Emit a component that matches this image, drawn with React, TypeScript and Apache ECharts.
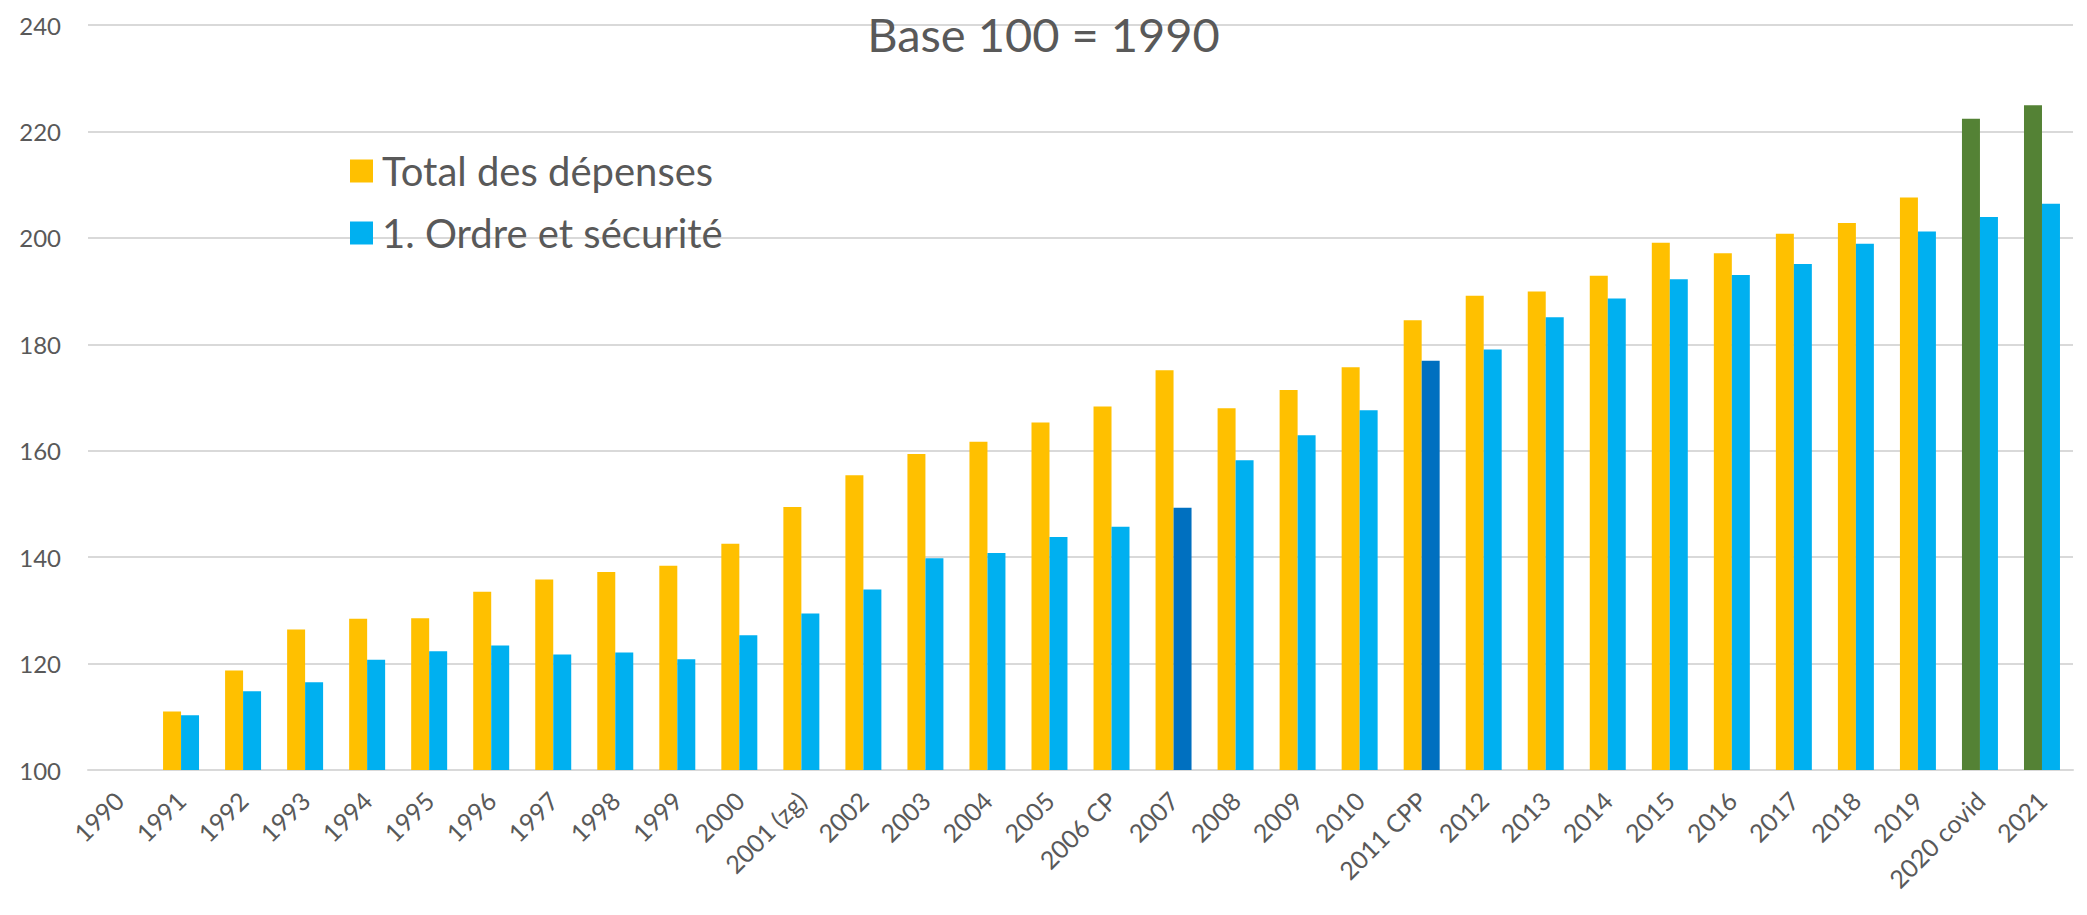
import React, { useEffect, useRef } from "react";
import * as echarts from "echarts";

const categories = [
  "1990", "1991", "1992", "1993", "1994", "1995", "1996", "1997", "1998", "1999",
  "2000", "2001 (zg)", "2002", "2003", "2004", "2005", "2006 CP", "2007", "2008", "2009",
  "2010", "2011 CPP", "2012", "2013", "2014", "2015", "2016", "2017", "2018", "2019",
  "2020 covid", "2021",
];

const totalDepenses = [
  100, 111.0, 118.7, 126.4, 128.4, 128.5, 133.5, 135.8, 137.2, 138.4,
  142.5, 149.4, 155.4, 159.4, 161.7, 165.3, 168.3, 175.1, 168.0, 171.4,
  175.7, 184.5, 189.1, 189.9, 192.9, 199.1, 197.1, 200.75, 202.8, 207.6,
  222.4, 224.9,
];

const ordreSecurite = [
  100, 110.3, 114.8, 116.5, 120.7, 122.3, 123.4, 121.7, 122.1, 120.8,
  125.3, 129.4, 133.9, 139.8, 140.8, 143.8, 145.7, 149.3, 158.2, 162.9,
  167.6, 176.9, 179.0, 185.1, 188.6, 192.2, 193.0, 195.1, 198.9, 201.2,
  203.9, 206.4,
];

const seriesNames = ["Total des dépenses", "1. Ordre et sécurité"];
const greenYears = ["2020 covid", "2021"];
const darkBlueYears = ["2007", "2011 CPP"];

const YELLOW = "#FFC000";
const GREEN = "#548235";
const BLUE = "#00B0F0";
const DARK_BLUE = "#0070C0";
const TEXT = "#595959";
const GRID = "#D9D9D9";
const FONT = "Lato, 'Noto Sans', sans-serif";

export default function App() {
  const ref = useRef<HTMLDivElement>(null);

  useEffect(() => {
    document.body.style.margin = "0";
    if (!ref.current) return;
    const chart = echarts.init(ref.current, undefined, { renderer: "svg" });
    chart.setOption({
      animation: false,
      backgroundColor: "#ffffff",
      textStyle: { fontFamily: FONT },
      title: {
        text: "Base 100 = 1990",
        left: "center",
        top: 10,
        padding: 0,
        textStyle: { fontFamily: FONT, fontSize: 47, fontWeight: "normal", color: TEXT },
      },
      legend: {
        orient: "vertical",
        left: 350,
        top: 151,
        padding: 0,
        itemWidth: 23,
        itemHeight: 23,
        itemGap: 22,
        icon: "rect",
        data: seriesNames,
        textStyle: { fontFamily: FONT, fontSize: 40, color: TEXT, padding: [0, 0, 0, 4] },
      },
      grid: { left: 88, right: 14, top: 25, bottom: 145, containLabel: false },
      xAxis: {
        type: "category",
        data: categories,
        axisTick: { show: false },
        axisLine: { lineStyle: { color: GRID, width: 2 } },
        axisLabel: {
          interval: 0,
          rotate: 45,
          margin: 26,
          fontSize: 25,
          color: TEXT,
          fontFamily: FONT,
        },
      },
      yAxis: {
        type: "value",
        min: 100,
        max: 240,
        interval: 20,
        axisLine: { show: false },
        axisTick: { show: false },
        splitLine: { lineStyle: { color: GRID, width: 2 } },
        axisLabel: { fontSize: 24, color: TEXT, margin: 27, fontFamily: FONT },
      },
      series: [
        {
          name: seriesNames[0],
          type: "bar",
          barGap: "0%",
          barCategoryGap: "42%",
          itemStyle: { color: YELLOW },
          data: totalDepenses.map((v, i) => ({
            value: v,
            itemStyle: { color: greenYears.includes(categories[i]) ? GREEN : YELLOW },
          })),
        },
        {
          name: seriesNames[1],
          type: "bar",
          barGap: "0%",
          barCategoryGap: "42%",
          itemStyle: { color: BLUE },
          data: ordreSecurite.map((v, i) => ({
            value: v,
            itemStyle: { color: darkBlueYears.includes(categories[i]) ? DARK_BLUE : BLUE },
          })),
        },
      ],
    });
    return () => chart.dispose();
  }, []);

  return <div ref={ref} style={{ width: 2087, height: 915 }} />;
}
